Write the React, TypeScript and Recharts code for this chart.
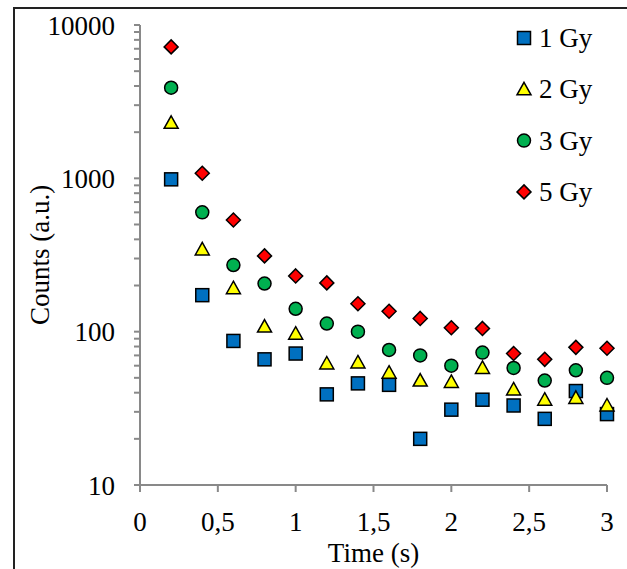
import React from 'react';
import {
  ScatterChart,
  Scatter,
  XAxis,
  YAxis,
  Label,
} from 'recharts';

const times = [0.2, 0.4, 0.6, 0.8, 1.0, 1.2, 1.4, 1.6, 1.8, 2.0, 2.2, 2.4, 2.6, 2.8, 3.0];
const gy1 = [985, 173, 87, 66, 72, 39, 46, 45, 20, 31, 36, 33, 27, 41, 29];
const gy2 = [2300, 344, 192, 108, 97, 62, 63, 54, 48, 47, 58, 42, 36, 37, 33];
const gy3 = [3900, 600, 272, 206, 141, 113, 100, 76, 70, 60, 73, 58, 48, 56, 50];
const gy5 = [7200, 1080, 535, 312, 231, 208, 152, 136, 122, 106, 105, 72, 66, 79, 78];

const xTicks = [0, 0.5, 1, 1.5, 2, 2.5, 3];
const yMajor = [10, 100, 1000, 10000];
const yMinor = [20, 30, 40, 50, 60, 70, 80, 90, 200, 300, 400, 500, 600, 700, 800, 900, 2000, 3000, 4000, 5000, 6000, 7000, 8000, 9000];

const FONT = '"Liberation Serif", "Times New Roman", serif';
const FONT_SIZE = 27;
const AXIS = '#898989';

type Marker = 'square' | 'triangle' | 'circle' | 'diamond';

const drawMarker = (kind: Marker, cx: number, cy: number, fill: string) => {
  const sw = 1.5;
  if (kind === 'square')
    return <rect x={cx - 6.5} y={cy - 6.5} width={13} height={13} fill={fill} stroke="#000" strokeWidth={sw} />;
  if (kind === 'triangle')
    return <polygon points={`${cx},${cy - 7} ${cx + 7},${cy + 5.5} ${cx - 7},${cy + 5.5}`} fill={fill} stroke="#000" strokeWidth={sw} />;
  if (kind === 'circle')
    return <circle cx={cx} cy={cy} r={6.5} fill={fill} stroke="#000" strokeWidth={sw} />;
  return <polygon points={`${cx},${cy - 7} ${cx + 7},${cy} ${cx},${cy + 7} ${cx - 7},${cy}`} fill={fill} stroke="#000" strokeWidth={sw} />;
};

const series: { name: string; values: number[]; color: string; marker: Marker }[] = [
  { name: '1 Gy', values: gy1, color: '#0070C0', marker: 'square' },
  { name: '2 Gy', values: gy2, color: '#FFFF00', marker: 'triangle' },
  { name: '3 Gy', values: gy3, color: '#00B050', marker: 'circle' },
  { name: '5 Gy', values: gy5, color: '#FF0000', marker: 'diamond' },
];

const toPoints = (values: number[]) => times.map((t, i) => ({ x: t, y: values[i] }));

// only decades get a label, the in-between ticks stay bare
const YTick = (props: any) => {
  const { x, y, payload } = props;
  if (!yMajor.includes(payload.value)) return null;
  return (
    <text x={x} y={y} dy="0.355em" textAnchor="end" fontFamily={FONT} fontSize={FONT_SIZE} fill="#000">
      {payload.value}
    </text>
  );
};

export default function App() {
  return (
    <div style={{ position: 'absolute', left: 0, top: 0, width: 627, height: 569, overflow: 'hidden', background: '#fff' }}>
      <div
        style={{
          position: 'absolute',
          left: 13,
          top: 7,
          width: 700,
          height: 700,
          borderLeft: '2px solid #222',
          borderTop: '2px solid #222',
        }}
      />
      <ScatterChart
        width={627}
        height={569}
        margin={{ top: 25, right: 20, bottom: 0, left: 0 }}
        style={{ position: 'absolute', left: 0, top: 0 }}
      >
        <XAxis
          type="number"
          dataKey="x"
          domain={[0, 3]}
          ticks={xTicks}
          interval={0}
          height={84}
          stroke={AXIS}
          strokeWidth={2}
          tickSize={7}
          tickMargin={20}
          tick={{ fill: '#000', fontSize: FONT_SIZE, fontFamily: FONT }}
          tickFormatter={(v: number) => String(v).replace('.', ',')}
        >
          <Label
            content={({ viewBox }: any) => (
              <text
                x={viewBox.x + viewBox.width / 2}
                y={viewBox.y + 68}
                textAnchor="middle"
                dominantBaseline="central"
                fontFamily={FONT}
                fontSize={FONT_SIZE}
                fill="#000"
              >
                Time (s)
              </text>
            )}
          />
        </XAxis>
        <YAxis
          type="number"
          dataKey="y"
          scale="log"
          domain={[10, 10000]}
          ticks={[...yMajor, ...yMinor].sort((a, b) => a - b)}
          interval={0}
          width={140}
          stroke={AXIS}
          strokeWidth={2}
          tickSize={6}
          tickMargin={19}
          tick={<YTick />}
          allowDataOverflow
        >
          <Label
            content={({ viewBox }: any) => {
              const cx = viewBox.x + 40;
              const cy = viewBox.y + viewBox.height / 2;
              return (
                <text
                  x={cx}
                  y={cy}
                  transform={`rotate(-90 ${cx} ${cy})`}
                  textAnchor="middle"
                  dominantBaseline="central"
                  fontFamily={FONT}
                  fontSize={FONT_SIZE}
                  fill="#000"
                >
                  Counts (a.u.)
                </text>
              );
            }}
          />
        </YAxis>
        {series.map((s) => (
          <Scatter
            key={s.name}
            name={s.name}
            data={toPoints(s.values)}
            isAnimationActive={false}
            shape={(p: any) => drawMarker(s.marker, p.cx, p.cy, s.color)}
          />
        ))}
      </ScatterChart>
      <svg width={627} height={569} style={{ position: 'absolute', left: 0, top: 0, pointerEvents: 'none' }}>
        {series.map((s, i) => {
          const cy = 38 + i * 51.3;
          return (
            <g key={s.name}>
              {drawMarker(s.marker, 524, cy, s.color)}
              <text x={539} y={cy} dominantBaseline="central" fontFamily={FONT} fontSize={FONT_SIZE} fill="#000">
                {s.name}
              </text>
            </g>
          );
        })}
      </svg>
    </div>
  );
}
